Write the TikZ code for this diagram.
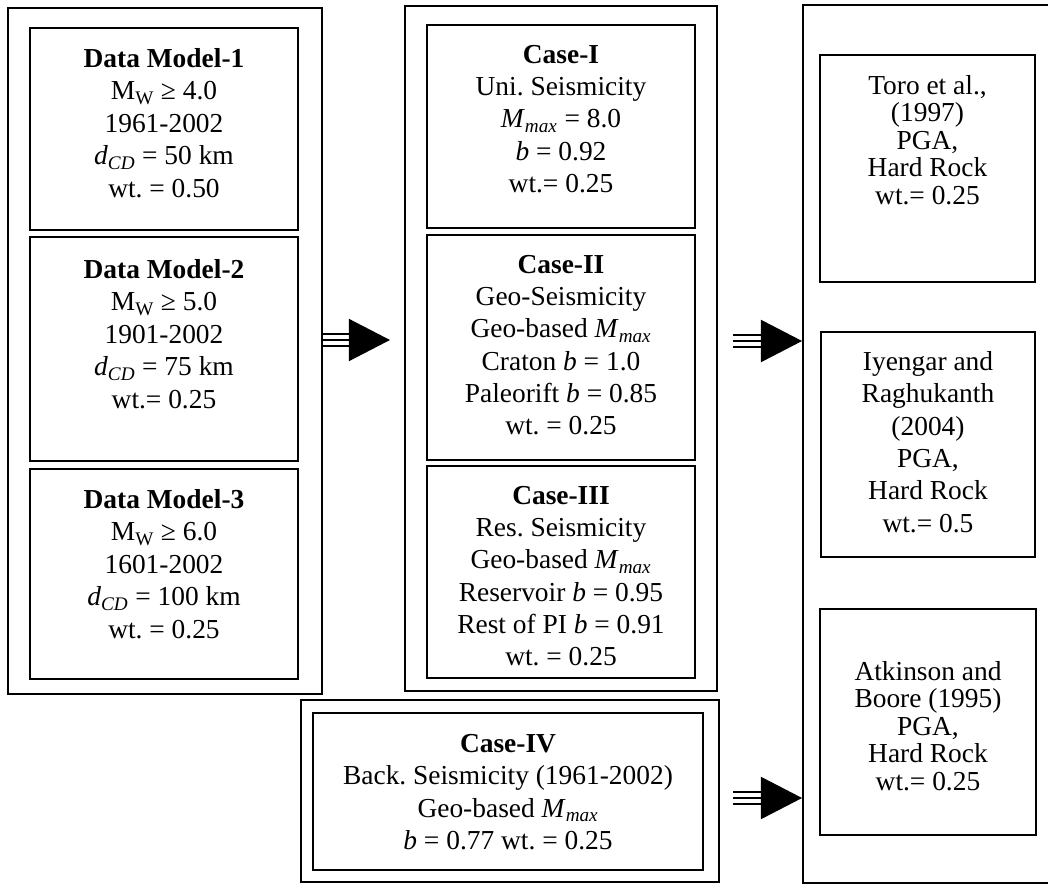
\documentclass[tikz,border=0pt]{standalone}
\usepackage{fontspec}
\setmainfont{Liberation Serif}
\usetikzlibrary{arrows.meta}
\frenchspacing

\begin{document}
\begin{tikzpicture}
[
  x=0.025cm, y=-0.025cm,
  box/.style 2 args={draw, line width=1.3pt, minimum width=#1*0.025cm, minimum height=#2*0.025cm, inner sep=0pt},
  txt/.style={align=center, inner sep=0pt, font=\fontsize{19.5}{23}\selectfont},
  tight/.style={txt, font=\fontsize{19.5}{19.6}\selectfont},
  twin/.style={double, line width=1.6pt, double distance=0.244cm, shorten >=0.9cm},
  shaft/.style={line width=1.6pt, -{Triangle[length=1.03cm, width=1.05cm]}}
]
\useasboundingbox (0,0) rectangle (1048,888);

% data models
\node[box={314}{686}] (dm) at (165,351) {};
\node[box={268}{202}] (dm1) at (164,129) {};
\node[txt] (dm1t) at (164,123) {\textbf{Data Model-1}\\ M\textsubscript{W} ≥ 4.0\\ 1961-2002\\ \textit{d}\textsubscript{\textit{CD}} = 50 km\\ wt. = 0.50};
\node[box={268}{224}] (dm2) at (164,349) {};
\node[txt] (dm2t) at (164,334) {\textbf{Data Model-2}\\ M\textsubscript{W} ≥ 5.0\\ 1901-2002\\ \textit{d}\textsubscript{\textit{CD}} = 75 km\\ wt.= 0.25};
\node[box={268}{210}] (dm3) at (164,574) {};
\node[txt] (dm3t) at (164,564) {\textbf{Data Model-3}\\ M\textsubscript{W} ≥ 6.0\\ 1601-2002\\ \textit{d}\textsubscript{\textit{CD}} = 100 km\\ wt. = 0.25};

% cases
\node[box={312}{685}] (cs) at (561,348.5) {};
\node[box={268}{203}] (cs1) at (561,126.5) {};
\node[txt] (cs1t) at (561,119) {\textbf{Case-I}\\ Uni. Seismicity\\ \textit{M}\textsubscript{\textit{max}} = 8.0\\ \textit{b} = 0.92\\ wt.= 0.25};
\node[box={268}{225}] (cs2) at (561,347.5) {};
\node[txt] (cs2t) at (561,345) {\textbf{Case-II}\\ Geo-Seismicity\\ Geo-based \textit{M}\textsubscript{\textit{max}}\\ Craton \textit{b} = 1.0\\ Paleorift \textit{b} = 0.85\\ wt. = 0.25};
\node[box={268}{212}] (cs3) at (561,572) {};
\node[txt] (cs3t) at (561,576) {\textbf{Case-III}\\ Res. Seismicity\\ Geo-based \textit{M}\textsubscript{\textit{max}}\\ Reservoir \textit{b} = 0.95\\ Rest of PI \textit{b} = 0.91\\ wt. = 0.25};

\node[box={418}{182}] (bk) at (510,791) {};
\node[box={390}{157}] (cs4) at (508,791.5) {};
\node[txt] (cs4t) at (508,792) {\textbf{Case-IV}\\ Back. Seismicity (1961-2002)\\ Geo-based \textit{M}\textsubscript{\textit{max}}\\ \textit{b} = 0.77 wt. = 0.25};

% attenuation relations
\node[box={252}{878}] (gm) at (929,444) {};
\node[box={215}{227}] (toro) at (927.5,168.5) {};
\node[tight] (torot) at (927.5,140) {Toro et al.,\\ (1997)\\ PGA,\\ Hard Rock\\ wt.= 0.25};
\node[box={214}{225}] (iyen) at (928,444.5) {};
\node[txt] (iyent) at (928,442) {Iyengar and\\ Raghukanth\\ (2004)\\ PGA,\\ Hard Rock\\ wt.= 0.5};
\node[box={216}{226}] (atk) at (928,722) {};
\node[tight] (atkt) at (928,726) {Atkinson and\\ Boore (1995)\\ PGA,\\ Hard Rock\\ wt.= 0.25};

% arrows
\coordinate (t1) at (390,340);
\coordinate (s2) at (733,341);
\coordinate (s3) at (733,798);

\draw[twin] (dm.east |- t1) -- (t1);
\draw[shaft] (dm.east |- t1) -- (t1);
\draw[twin] (s2) -- (gm.west |- s2);
\draw[shaft] (s2) -- (gm.west |- s2);
\draw[twin] (s3) -- (gm.west |- s3);
\draw[shaft] (s3) -- (gm.west |- s3);

\end{tikzpicture}
\end{document}
